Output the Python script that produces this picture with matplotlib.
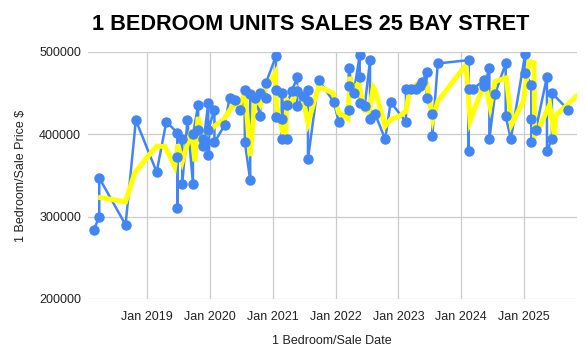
import pandas as pd
import matplotlib
matplotlib.use("Agg")
from matplotlib import pyplot as plt
import matplotlib.dates as mdates

plt.rcParams['font.family'] = ['Liberation Sans', 'DejaVu Sans']

# sprzedaze (data, cena)
sale_dates = [
    "2018-02-25", "2018-03-28", "2018-03-28", "2018-08-28", "2018-10-27",
    "2019-02-25", "2019-04-22", "2019-06-25", "2019-06-25", "2019-06-25",
    "2019-07-24", "2019-07-24", "2019-08-23", "2019-09-24", "2019-09-24",
    "2019-10-24", "2019-10-24", "2019-11-22", "2019-11-22", "2019-12-22",
    "2019-12-22", "2019-12-22",
    "2020-01-27", "2020-01-27", "2020-03-26", "2020-04-24", "2020-05-27",
    "2020-06-25", "2020-07-20", "2020-07-22", "2020-08-22", "2020-08-22",
    "2020-09-21", "2020-10-20", "2020-10-20", "2020-11-21", "2020-11-21",
    "2021-01-19", "2021-01-19", "2021-01-19", "2021-02-21", "2021-02-21",
    "2021-02-21", "2021-03-22", "2021-03-22", "2021-04-20", "2021-05-22",
    "2021-05-22", "2021-05-22", "2021-06-28", "2021-07-24", "2021-07-24",
    "2021-07-24", "2021-09-24", "2021-12-22",
    "2022-01-19", "2022-03-18", "2022-03-18", "2022-03-18", "2022-04-16",
    "2022-05-21", "2022-05-21", "2022-05-21", "2022-06-19", "2022-07-20",
    "2022-07-20", "2022-08-18", "2022-10-16", "2022-11-17",
    "2023-02-14", "2023-02-14", "2023-03-15", "2023-04-13", "2023-05-08",
    "2023-05-20", "2023-06-14", "2023-06-14", "2023-07-17", "2023-07-17",
    "2023-08-18",
    "2024-02-14", "2024-02-14", "2024-02-14", "2024-03-11", "2024-05-14",
    "2024-05-14", "2024-06-13", "2024-06-13", "2024-07-16", "2024-09-16",
    "2024-09-16", "2024-10-16",
    "2025-01-08", "2025-01-08", "2025-02-12", "2025-02-12", "2025-02-12",
    "2025-03-10", "2025-05-14", "2025-05-14", "2025-06-12", "2025-06-12",
    "2025-09-13",
]
sale_prices = [
    284000, 300000, 347000, 290000, 417000,
    354000, 415000, 402000, 310000, 372000,
    394000, 340000, 417000, 340000, 400000,
    435000, 405000, 394000, 386000, 438000,
    375000, 405000,
    430000, 390000, 411000, 444000, 441000,
    429000, 454000, 390000, 344000, 449000,
    444000, 422000, 450000, 444000, 462000,
    495000, 454000, 421000, 419000, 394000,
    450000, 394000, 436000, 452000, 469000,
    452000, 434000, 446000, 454000, 440000,
    370000, 466000, 439000,
    415000, 429000, 458000, 480000, 450000,
    496000, 470000, 438000, 434000, 490000,
    419000, 425000, 394000, 439000,
    415000, 455000, 455000, 455000, 458000,
    464000, 475000, 444000, 425000, 398000,
    486000,
    490000, 380000, 455000, 455000, 466000,
    459000, 480000, 394000, 449000, 486000,
    422000, 394000,
    498000, 474000, 460000, 419000, 390000,
    405000, 470000, 380000, 394000, 450000,
    430000,
]

# linia trendu (srednia ruchoma)
trend_dates = [
    "2018-04-05", "2018-08-28", "2018-10-20", "2019-01-15", "2019-02-25",
    "2019-04-15", "2019-06-10", "2019-06-28", "2019-07-24", "2019-09-17",
    "2019-10-05", "2019-10-24", "2019-11-15", "2019-12-15", "2020-01-27",
    "2020-03-22", "2020-05-09", "2020-06-25", "2020-07-24", "2020-08-22",
    "2020-09-21", "2020-10-20", "2020-11-17", "2021-01-15", "2021-01-22",
    "2021-02-28", "2021-03-18", "2021-03-22", "2021-04-20", "2021-05-22",
    "2021-06-28", "2021-07-24", "2021-09-24", "2021-12-17", "2022-01-19",
    "2022-03-14", "2022-03-25", "2022-04-16", "2022-05-15", "2022-06-17",
    "2022-07-16", "2022-08-08", "2022-08-18", "2022-10-16", "2022-11-17",
    "2023-01-08", "2023-02-14", "2023-03-08", "2023-05-20", "2023-06-14",
    "2023-07-20", "2023-08-18", "2024-01-30", "2024-02-22", "2024-05-18",
    "2024-06-17", "2024-07-16", "2024-09-20", "2024-10-20", "2024-12-28",
    "2025-01-30", "2025-02-28", "2025-03-03", "2025-03-28", "2025-05-30",
    "2025-06-28", "2025-07-01", "2025-11-03",
]
trend_values = [
    323000, 318000, 353000, 375500, 385600,
    385000, 361000, 387600, 367000, 405800,
    367000, 421000, 397700, 400000, 409800,
    418000, 434000, 438000, 450000, 373500,
    446000, 436000, 454000, 474500, 434000,
    401500, 401500, 442000, 436000, 454000,
    440000, 414000, 458000, 450000, 426000,
    419000, 469700, 452300, 463000, 429000,
    428000, 457000, 454000, 410000, 418000,
    422000, 428000, 454000, 466000, 462000,
    418000, 440000, 484600, 416000, 464000,
    434000, 464000, 468500, 412000, 440000,
    488700, 486700, 398000, 406900, 436000,
    396000, 422000, 446400,
]

tick_years = [2019, 2020, 2021, 2022, 2023, 2024, 2025]
y_ticks = [200000, 300000, 400000, 500000]

sales = pd.DataFrame({"date": pd.to_datetime(sale_dates), "price": sale_prices})
trend = pd.DataFrame({"date": pd.to_datetime(trend_dates), "value": trend_values})

fig = plt.figure(figsize=(5.86, 3.58), dpi=100)
ax = fig.add_axes([0.150, 0.165, 0.835, 0.690])

blue = "#4285F4"
ax.plot(sales.date, sales.price, color=blue, linewidth=1.8, zorder=2)
ax.plot(trend.date, trend.value, color="#FFFF00", linewidth=3.6, zorder=3,
        solid_joinstyle="miter")
ax.plot(sales.date, sales.price, linestyle="none", marker="o", markersize=6.5,
        color=blue, zorder=4)

ax.set_xlim(pd.Timestamp("2018-01-21"), pd.Timestamp("2025-11-06"))
ax.set_ylim(200000, 500000)
ax.set_yticks(y_ticks)
ax.set_yticklabels([str(v) for v in y_ticks])
ax.set_xticks([pd.Timestamp(f"{y}-01-01") for y in tick_years])
ax.xaxis.set_major_formatter(mdates.DateFormatter("Jan %Y"))

ax.grid(True, color="#cccccc", linewidth=0.9)
ax.set_axisbelow(True)
for s in ax.spines.values():
    s.set_visible(False)
ax.tick_params(length=0, labelsize=9, colors="#222222", pad=5)
ax.tick_params(axis="x", pad=9)

fig.text(0.036, 0.51, "1 Bedroom/Sale Price $", rotation=90, ha="center",
         va="center", fontsize=9, color="#222222")
fig.text(0.567, 1 - 341 / 358, "1 Bedroom/Sale Date", ha="center",
         va="center", fontsize=9, color="#222222")
fig.text(92 / 586, 1 - 24 / 358, "1 BEDROOM UNITS SALES 25 BAY STRET",
         ha="left", va="center", fontsize=15.6, fontweight="bold", color="#000000")

plt.savefig("out.png", dpi=100)
plt.close()
